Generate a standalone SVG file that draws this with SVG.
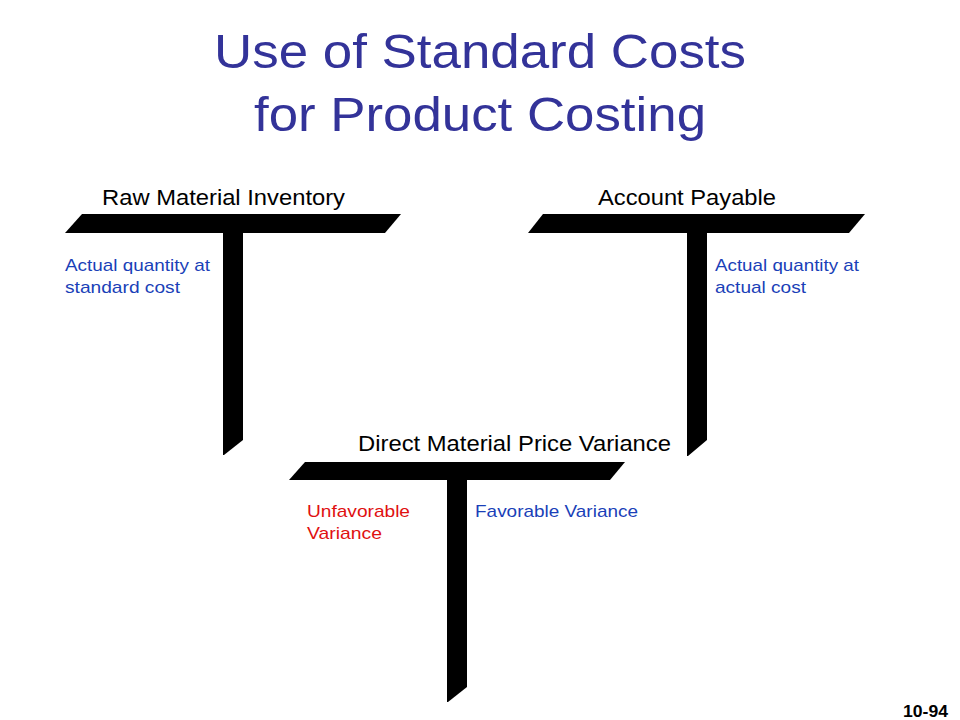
<svg xmlns="http://www.w3.org/2000/svg" width="960" height="720" viewBox="0 0 960 720">
<style>
.title{font-family:"Liberation Sans",Arial,sans-serif;font-size:49px;fill:#333399}
.head{font-family:"Liberation Sans",Arial,sans-serif;font-size:22px;fill:#000}
.note{font-family:"Liberation Sans",Arial,sans-serif;font-size:17px}
.blue{fill:#1a3fb8}
.red{fill:#e01010}
.t{fill:#000}
.pg{font-family:"Liberation Sans",Arial,sans-serif;font-size:17px;font-weight:bold;fill:#000}
</style>
<rect width="960" height="720" fill="#fff"/>
<text class="title" x="214" y="68" textLength="532" lengthAdjust="spacingAndGlyphs">Use of Standard Costs</text>
<text class="title" x="254" y="131" textLength="452" lengthAdjust="spacingAndGlyphs">for Product Costing</text>
<g id="raw-material-inventory">
<text class="head" x="102" y="205" textLength="243" lengthAdjust="spacingAndGlyphs">Raw Material Inventory</text>
<polygon class="t" points="82,214 401,214 385,233 65,233"/>
<polygon class="t" points="223,233 243,233 243,440 224,455 223,455"/>
<text class="note blue" x="65" y="271" textLength="145" lengthAdjust="spacingAndGlyphs">Actual quantity at</text>
<text class="note blue" x="65" y="293" textLength="115" lengthAdjust="spacingAndGlyphs">standard cost</text>
</g>
<g id="account-payable">
<text class="head" x="598" y="205" textLength="178" lengthAdjust="spacingAndGlyphs">Account Payable</text>
<polygon class="t" points="543,214 865,214 849,233 528,233"/>
<polygon class="t" points="687,233 707,233 707,440 688,456 687,456"/>
<text class="note blue" x="715" y="271" textLength="144" lengthAdjust="spacingAndGlyphs">Actual quantity at</text>
<text class="note blue" x="715" y="293" textLength="91" lengthAdjust="spacingAndGlyphs">actual cost</text>
</g>
<g id="direct-material-price-variance">
<text class="head" x="358" y="451" textLength="313" lengthAdjust="spacingAndGlyphs">Direct Material Price Variance</text>
<polygon class="t" points="305,462 625,462 610,480 289,480"/>
<polygon class="t" points="447,480 467,480 467,687 448,702 447,702"/>
<text class="note red" x="307" y="517" textLength="103" lengthAdjust="spacingAndGlyphs">Unfavorable</text>
<text class="note red" x="307" y="539" textLength="75" lengthAdjust="spacingAndGlyphs">Variance</text>
<text class="note blue" x="475" y="517" textLength="163" lengthAdjust="spacingAndGlyphs">Favorable Variance</text>
</g>
<g id="connectors"></g>
<text class="pg" x="903" y="717" textLength="45" lengthAdjust="spacingAndGlyphs">10-94</text>
</svg>
